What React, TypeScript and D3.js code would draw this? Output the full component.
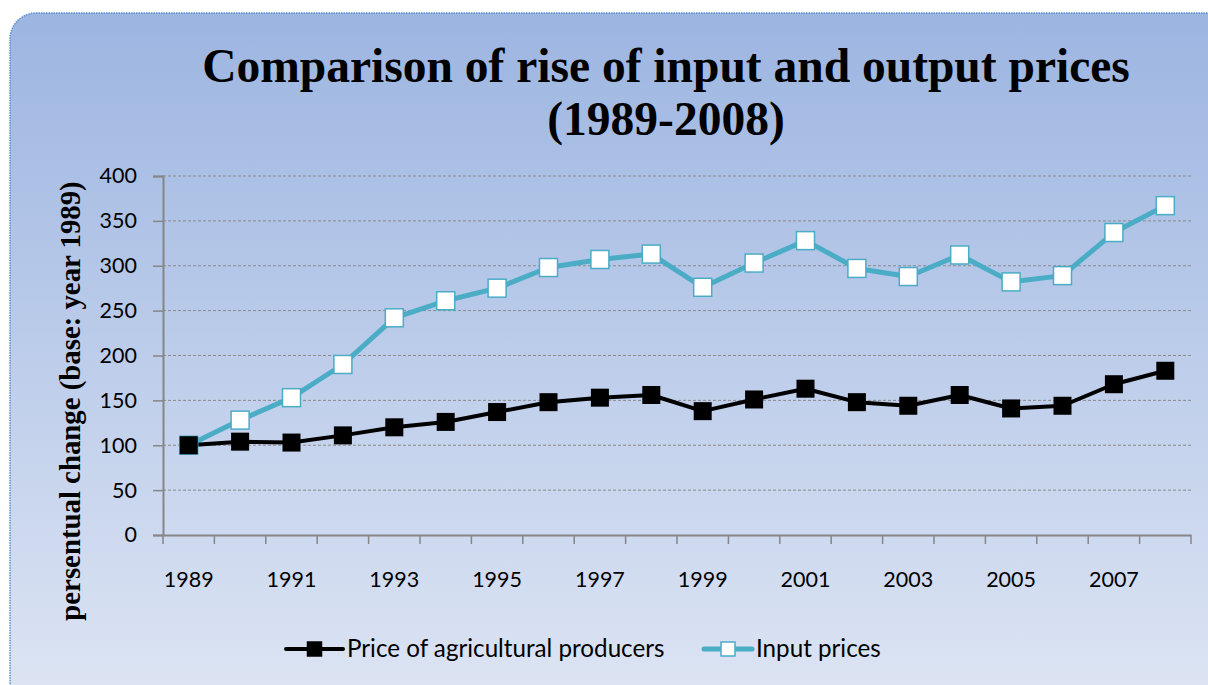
import React, { useEffect, useRef } from 'react';
import * as d3 from 'd3';

const years = d3.range(1989, 2009).map(String);
const producerPrices = [100, 104, 103, 111, 120, 126, 137, 148, 153, 156, 138, 151, 163, 148, 144, 156, 141, 144, 168, 183];
const inputPrices = [100, 128, 153, 190, 242, 261, 275, 298, 307, 313, 276, 303, 328, 297, 288, 312, 282, 289, 337, 367];
const yTicks = [0, 50, 100, 150, 200, 250, 300, 350, 400];
const titleLines = ['Comparison of rise of input and output prices', '(1989-2008)'];
const yLabel = 'persentual change (base: year 1989)';
const seriesNames = ['Price of agricultural producers', 'Input prices'];

const W = 1208, H = 685;
const TEAL = '#4bacc6';

export default function App() {
  const ref = useRef<SVGSVGElement>(null);

  useEffect(() => {
    const svg = d3.select(ref.current);
    svg.selectAll('*').remove();

    const defs = svg.append('defs');
    const grad = defs.append('linearGradient').attr('id', 'bg').attr('x1', 0).attr('y1', 0).attr('x2', 0).attr('y2', 1);
    grad.append('stop').attr('offset', '0%').attr('stop-color', '#9cb5e1');
    grad.append('stop').attr('offset', '100%').attr('stop-color', '#dfe6f4');

    svg.append('rect')
      .attr('x', 10).attr('y', 13).attr('width', W + 20).attr('height', H + 20)
      .attr('rx', 26).attr('ry', 26)
      .attr('fill', 'url(#bg)')
      .attr('stroke', '#5b8fd0').attr('stroke-width', 1.5).attr('stroke-dasharray', '1.5,1');

    // title
    svg.append('g').selectAll('text').data(titleLines).enter().append('text')
      .attr('x', 666).attr('y', (d, i) => 82 + i * 53)
      .attr('text-anchor', 'middle')
      .style('font-family', '"Liberation Serif", "Times New Roman", serif')
      .style('font-weight', 'bold').style('font-size', '47.5px')
      .text(d => d);

    const x = d3.scaleBand().domain(years).range([163, 1191]);
    const y = d3.scaleLinear().domain([0, 400]).range([535, 176]);
    const cx = (i: number) => x(years[i])! + x.bandwidth() / 2;

    // gridlines
    svg.append('g').selectAll('line').data(yTicks.filter(t => t > 0)).enter().append('line')
      .attr('x1', 163).attr('x2', 1191)
      .attr('y1', d => y(d)).attr('y2', d => y(d))
      .attr('stroke', '#8a8a8a').attr('stroke-width', 1).attr('stroke-dasharray', '3,2');

    const tickFont = 'Lato, "Open Sans", sans-serif';

    // y axis
    const yAxis = svg.append('g').attr('transform', 'translate(163,0)')
      .call(d3.axisLeft(y).tickValues(yTicks).tickSize(10).tickPadding(16));
    yAxis.select('.domain').attr('stroke', '#868686').attr('stroke-width', 2);
    yAxis.selectAll('.tick line').attr('stroke', '#868686').attr('stroke-width', 1.5);
    yAxis.selectAll('.tick text').style('font-family', tickFont).style('font-size', '21.5px').attr('fill', '#000');

    // x axis
    const xAxis = svg.append('g').attr('transform', 'translate(0,535)')
      .call(d3.axisBottom(x).tickValues([]).tickSizeOuter(0));
    xAxis.select('.domain').attr('stroke', '#868686').attr('stroke-width', 2);
    xAxis.append('g').selectAll('line').data(d3.range(years.length + 1)).enter().append('line')
      .attr('x1', i => 163 + i * x.step()).attr('x2', i => 163 + i * x.step())
      .attr('y1', 0).attr('y2', 9)
      .attr('stroke', '#868686').attr('stroke-width', 1.5);
    xAxis.append('g').selectAll('text').data(years.filter((d, i) => i % 2 === 0)).enter().append('text')
      .attr('x', d => x(d)! + x.bandwidth() / 2).attr('y', 52)
      .attr('text-anchor', 'middle')
      .style('font-family', tickFont).style('font-size', '21.5px').attr('fill', '#000')
      .text(d => d);

    // y label
    svg.append('text')
      .attr('transform', 'translate(80,401) rotate(-90)')
      .attr('text-anchor', 'middle')
      .style('font-family', '"Liberation Serif", "Times New Roman", serif')
      .style('font-weight', 'bold').style('font-size', '28.8px')
      .text(yLabel);

    const line = d3.line<number>().x((d, i) => cx(i)).y(d => y(d));

    // input prices
    svg.append('path').datum(inputPrices).attr('d', line)
      .attr('fill', 'none').attr('stroke', TEAL).attr('stroke-width', 5).attr('stroke-linejoin', 'round');
    // producers
    svg.append('path').datum(producerPrices).attr('d', line)
      .attr('fill', 'none').attr('stroke', '#000').attr('stroke-width', 4).attr('stroke-linejoin', 'round');

    const ms = 18;
    svg.append('g').selectAll('rect').data(inputPrices).enter().append('rect')
      .attr('x', (d, i) => cx(i) - ms / 2).attr('y', d => y(d) - ms / 2)
      .attr('width', ms).attr('height', ms)
      .attr('fill', '#fff').attr('stroke', TEAL).attr('stroke-width', 1.5);
    svg.append('g').selectAll('rect').data(producerPrices).enter().append('rect')
      .attr('x', (d, i) => cx(i) - ms / 2).attr('y', d => y(d) - ms / 2)
      .attr('width', ms).attr('height', ms)
      .attr('fill', '#000');

    // legend
    const legend = [
      { name: seriesNames[0], x0: 286, x1: 343, color: '#000', fill: '#000', w: 4 },
      { name: seriesNames[1], x0: 704, x1: 752, color: TEAL, fill: '#fff', w: 5 },
    ];
    const lg = svg.append('g').selectAll('g').data(legend).enter().append('g');
    lg.append('line')
      .attr('x1', d => d.x0).attr('x2', d => d.x1).attr('y1', 649).attr('y2', 649)
      .attr('stroke', d => d.color).attr('stroke-width', d => d.w).attr('stroke-linecap', 'round');
    lg.append('rect')
      .attr('x', d => (d.x0 + d.x1) / 2 - 7).attr('y', 642).attr('width', 14).attr('height', 14)
      .attr('fill', d => d.fill).attr('stroke', d => d.color).attr('stroke-width', 1.5);
    lg.append('text')
      .attr('x', d => d.x1 + 4).attr('y', 657)
      .style('font-family', tickFont).style('font-size', '24.2px').attr('fill', '#000')
      .text(d => d.name);
  }, []);

  return (
    <svg ref={ref} width={W} height={H} style={{ position: 'absolute', left: 0, top: 0, display: 'block' }} />
  );
}
